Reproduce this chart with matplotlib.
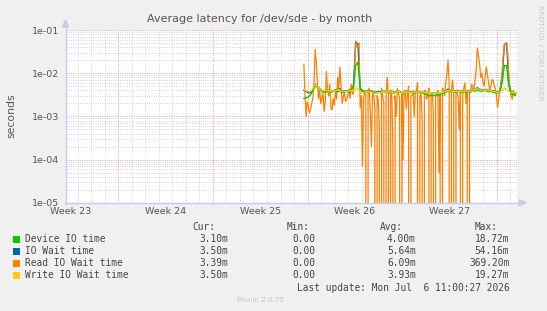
import numpy as np
import matplotlib
matplotlib.use('Agg')
import matplotlib.pyplot as plt
from matplotlib.patches import Rectangle, Polygon

W, H = 547, 311

# ---------------- data ----------------
start_day = 20.73          # days since start of week 23 grid
step_day = 1 / 6           # 4-hour samples (device / wait / write)
read_step_day = 1 / 12     # 2-hour samples (read)

read_io = [1.6e-2, 3.0e-3, 1.0e-3, 2.2e-3, 1.7e-3, 1.2e-3, 1.5e-3, 2.0e-3, 2.8e-3, 6.0e-3,
           3.6e-2, 1.8e-2, 6.0e-3, 2.5e-3, 4.5e-3, 2.0e-3, 2.4e-3, 3.5e-3, 1.3e-3, 2.2e-3,
           1.1e-2, 4.0e-3, 3.0e-3, 5.5e-3, 1.6e-3, 1.4e-3, 2.6e-3, 1.8e-3, 3.8e-3, 2.5e-3,
           8.0e-3, 4.5e-3, 1.4e-2, 5.0e-3, 2.0e-3, 2.8e-3, 3.6e-3, 2.2e-3, 2.4e-3, 3.0e-3,
           4.2e-3, 2.6e-3, 5.5e-3, 3.5e-3, 3.2e-3, 1.2e-2, 5.3e-2, 4.0e-2, 4.4e-2, 5.0e-2,
           1.6e-3, 3.0e-3, 7e-5, 2.5e-3, 4.0e-3, 3.0e-3, 0.0, 4.0e-3, 4.5e-3, 1.2e-3,
           2e-4, 3.8e-3, 3.5e-3, 1.5e-3, 0.0, 3.0e-3, 2.5e-3, 6e-4, 0.0, 4.5e-3,
           3.0e-3, 2.0e-3, 0.0, 3.5e-3, 8.0e-3, 3.0e-3, 0.0, 4.0e-3, 4.0e-3, 2e-4,
           0.0, 3.0e-3, 1.0e-3, 4.5e-3, 3.5e-3, 2.5e-3, 0.0, 3.5e-3, 1.0e-4, 4.0e-3,
           4.0e-3, 1.5e-3, 3.5e-3, 5.0e-3, 0.0, 3.0e-3, 3.0e-3, 4.0e-3, 1.0e-3, 3.5e-3,
           4.0e-3, 6.0e-3, 0.0, 3.0e-3, 3.5e-3, 8e-4, 0.0, 4.0e-3, 4.0e-3, 2.5e-3,
           3.0e-3, 4.5e-3, 0.0, 3.5e-3, 3.5e-3, 1.2e-3, 0.0, 3.0e-3, 3.0e-3, 4.0e-3,
           5e-5, 3.5e-3, 0.0, 4.5e-3, 4.0e-3, 3.0e-3, 6.0e-3, 1.0e-2, 2.0e-2, 6.0e-3,
           0.0, 4.0e-3, 7.0e-3, 3.0e-3, 0.0, 3.5e-3, 4.0e-3, 2.5e-3, 5e-4, 4.0e-3,
           0.0, 3.0e-3, 4.5e-3, 6.0e-3, 2.0e-3, 3.5e-3, 0.0, 4.0e-3, 3.5e-3, 5.5e-3,
           5.0e-3, 4.0e-3, 7.0e-3, 1.2e-2, 3.8e-2, 2.5e-2, 1.7e-2, 8.0e-3, 1.0e-2, 6.0e-3,
           5.0e-3, 8.0e-3, 1.4e-2, 9.0e-3, 6.0e-3, 4.0e-3, 5.0e-3, 7.0e-3, 7.0e-3, 5.0e-3,
           4.5e-3, 3.0e-3, 1.6e-3, 2.5e-3, 4.0e-3, 6.0e-3, 1.0e-2, 2.5e-2, 4.5e-2, 5.0e-2,
           5.0e-2, 3.0e-2, 8.0e-3, 4.0e-3, 3.0e-3, 2.5e-3, 4.0e-3, 3.0e-3, 3.3e-3]

device_io = [2.6e-3, 2.7e-3, 2.8e-3, 3.2e-3, 4.0e-3, 5.0e-3, 4.8e-3, 4.2e-3, 3.8e-3, 3.6e-3,
             3.7e-3, 3.9e-3, 3.6e-3, 3.8e-3, 4.0e-3, 3.7e-3, 3.9e-3, 3.5e-3, 3.7e-3, 3.8e-3,
             3.6e-3, 4.0e-3, 5.0e-3, 1.5e-2, 1.8e-2, 4.5e-3, 3.8e-3, 3.6e-3, 3.7e-3, 3.5e-3,
             3.8e-3, 3.6e-3, 3.4e-3, 3.7e-3, 3.5e-3, 3.8e-3, 3.6e-3, 3.9e-3, 3.5e-3, 3.7e-3,
             3.4e-3, 3.6e-3, 3.8e-3, 3.5e-3, 3.3e-3, 3.6e-3, 3.8e-3, 3.5e-3, 3.7e-3, 3.4e-3,
             3.6e-3, 3.5e-3, 3.7e-3, 3.4e-3, 3.3e-3, 3.1e-3, 3.0e-3, 3.1e-3, 3.0e-3, 3.2e-3,
             3.1e-3, 3.3e-3, 3.5e-3, 3.6e-3, 3.9e-3, 3.7e-3, 3.8e-3, 3.6e-3, 3.9e-3, 3.7e-3,
             3.5e-3, 3.8e-3, 3.6e-3, 3.7e-3, 3.9e-3, 4.0e-3, 3.8e-3, 4.1e-3, 3.9e-3, 3.8e-3,
             4.0e-3, 3.9e-3, 3.7e-3, 3.8e-3, 3.6e-3, 3.5e-3, 3.4e-3, 3.6e-3, 6.0e-3, 1.5e-2,
             1.5e-2, 5.0e-3, 3.3e-3, 3.2e-3, 3.1e-3]

io_wait = [4.0e-3, 3.8e-3, 3.5e-3, 3.6e-3, 4.2e-3, 5.6e-3, 5.0e-3, 4.4e-3, 4.0e-3, 3.9e-3,
           4.1e-3, 4.0e-3, 3.8e-3, 3.9e-3, 4.1e-3, 4.3e-3, 4.4e-3, 3.8e-3, 3.9e-3, 3.8e-3,
           4.0e-3, 4.4e-3, 5.0e-3, 5.4e-2, 4.5e-2, 4.4e-3, 3.9e-3, 3.8e-3, 3.9e-3, 3.8e-3,
           3.9e-3, 3.7e-3, 3.6e-3, 3.8e-3, 3.7e-3, 3.9e-3, 3.7e-3, 4.1e-3, 3.7e-3, 3.8e-3,
           3.6e-3, 3.7e-3, 3.9e-3, 3.6e-3, 3.5e-3, 3.8e-3, 3.9e-3, 3.6e-3, 3.8e-3, 3.6e-3,
           3.8e-3, 3.6e-3, 3.8e-3, 3.6e-3, 3.6e-3, 3.5e-3, 3.4e-3, 3.5e-3, 3.4e-3, 3.5e-3,
           3.4e-3, 3.5e-3, 3.7e-3, 3.9e-3, 4.3e-3, 3.9e-3, 4.0e-3, 3.8e-3, 4.0e-3, 3.9e-3,
           3.8e-3, 4.0e-3, 3.9e-3, 3.9e-3, 4.1e-3, 4.3e-3, 4.1e-3, 4.6e-3, 4.3e-3, 4.1e-3,
           4.2e-3, 4.2e-3, 4.0e-3, 4.0e-3, 3.9e-3, 3.8e-3, 3.6e-3, 3.8e-3, 8.0e-3, 4.5e-2,
           5.0e-2, 6.0e-3, 3.6e-3, 3.6e-3, 3.5e-3]

write_io = [4.2e-3, 4.0e-3, 3.7e-3, 3.8e-3, 4.4e-3, 5.5e-3, 5.0e-3, 4.3e-3, 4.0e-3, 3.9e-3,
            4.0e-3, 3.9e-3, 3.8e-3, 3.9e-3, 4.0e-3, 4.1e-3, 4.0e-3, 3.7e-3, 3.8e-3, 3.7e-3,
            3.9e-3, 4.0e-3, 3.8e-3, 4.6e-3, 4.2e-3, 3.6e-3, 3.5e-3, 3.6e-3, 3.8e-3, 3.6e-3,
            3.7e-3, 3.5e-3, 3.4e-3, 3.6e-3, 3.5e-3, 3.8e-3, 3.6e-3, 4.0e-3, 3.6e-3, 3.7e-3,
            3.5e-3, 3.6e-3, 3.8e-3, 3.5e-3, 3.4e-3, 3.7e-3, 3.8e-3, 3.5e-3, 3.7e-3, 3.5e-3,
            3.7e-3, 3.5e-3, 3.8e-3, 3.6e-3, 3.6e-3, 3.5e-3, 3.4e-3, 3.5e-3, 3.4e-3, 3.5e-3,
            3.4e-3, 3.5e-3, 3.7e-3, 3.8e-3, 4.0e-3, 3.8e-3, 3.9e-3, 3.7e-3, 3.9e-3, 3.8e-3,
            3.7e-3, 3.9e-3, 3.8e-3, 3.8e-3, 4.0e-3, 4.2e-3, 4.0e-3, 4.4e-3, 4.2e-3, 4.0e-3,
            4.1e-3, 4.1e-3, 3.9e-3, 3.9e-3, 3.8e-3, 3.7e-3, 3.5e-3, 3.7e-3, 4.0e-3, 4.5e-3,
            4.2e-3, 3.8e-3, 3.5e-3, 3.6e-3, 3.5e-3]

week_labels = ['Week 23', 'Week 24', 'Week 25', 'Week 26', 'Week 27']
week_label_days = [3.5, 10.5, 17.5, 24.5, 31.5]
week_start_days = [7, 14, 21, 28, 35]
x_range = (3.09, 36.5)

ytick_vals = [1e-5, 1e-4, 1e-3, 1e-2, 1e-1]
ytick_labels = ['1e-05', '1e-04', '1e-03', '1e-02', '1e-01']

series_names = ['Device IO time', 'IO Wait time', 'Read IO Wait time', 'Write IO Wait time']
series_colors = ['#00CC00', '#0066B3', '#FF8000', '#FFCC00']
stat_cur = ['3.10m', '3.50m', '3.39m', '3.50m']
stat_min = ['0.00', '0.00', '0.00', '0.00']
stat_avg = ['4.00m', '5.64m', '6.09m', '3.93m']
stat_max = ['18.72m', '54.16m', '369.20m', '19.27m']

# ---------------- figure ----------------
def fx(x):
    return x / W

def fy(y):
    return 1 - y / H

fig = plt.figure(figsize=(W / 100, H / 100), dpi=100, facecolor='#F0F0F0')
ax_l, ax_r, ax_t, ax_b = 65.5, 517.0, 30.0, 202.7
ax = fig.add_axes([fx(ax_l), fy(ax_b), fx(ax_r) - fx(ax_l), fy(ax_t) - fy(ax_b)])
ax.set_facecolor('white')
ax.set_yscale('log')
ax.set_ylim(1e-5, 1e-1)
ax.set_xlim(*x_range)

for s in ax.spines.values():
    s.set_visible(False)

minor_kw = dict(color='#D4D4D4', lw=0.7, ls=(0, (1, 1.3)), zorder=1)
major_kw = dict(color='#EBA0A0', lw=0.7, ls=(0, (1, 1.3)), zorder=1.5)

# vertical grid: days (minor), week starts (major)
for d in range(int(np.ceil(x_range[0])), int(x_range[1]) + 1):
    if d in week_start_days:
        ax.axvline(d, **major_kw)
    else:
        ax.axvline(d, **minor_kw)
# horizontal grid
for dec in ytick_vals:
    ax.axhline(dec, **major_kw)
    if dec < 1e-1:
        for m in range(2, 10):
            ax.axhline(dec * m, **minor_kw)

t = start_day + step_day * np.arange(len(device_io))
t_read = start_day + read_step_day * np.arange(len(read_io))
ax.plot(t, io_wait, color=series_colors[1], lw=1.0, zorder=2.8)
ax.plot(t_read, read_io, color=series_colors[2], lw=0.9, zorder=3)
ax.plot(t, device_io, color=series_colors[0], lw=1.0, zorder=4)
ax.plot(t, write_io, color=series_colors[3], lw=1.0, zorder=5)

ax.set_xticks(week_label_days)
ax.set_xticklabels(week_labels)
ax.set_yticks(ytick_vals)
ax.set_yticklabels(ytick_labels)
ax.yaxis.set_minor_locator(matplotlib.ticker.NullLocator())
ax.xaxis.set_minor_locator(matplotlib.ticker.NullLocator())
ax.tick_params(axis='both', length=0, labelsize=6.8, labelcolor='#555555')
ax.tick_params(axis='x', pad=3.0)
ax.tick_params(axis='y', pad=4.5)

# axis lines with arrows
acol = '#C4CAF0'
fig.add_artist(plt.Line2D([fx(ax_l), fx(ax_l)], [fy(ax_b + 1), fy(24)], color=acol, lw=1.0))
fig.add_artist(plt.Line2D([fx(ax_l - 1), fx(520)], [fy(ax_b), fy(ax_b)], color=acol, lw=1.0))
fig.add_artist(Polygon([[fx(ax_l - 3), fy(27)], [fx(ax_l + 3), fy(27)], [fx(ax_l), fy(20)]],
                       closed=True, color=acol, transform=fig.transFigure))
fig.add_artist(Polygon([[fx(519), fy(ax_b - 3)], [fx(519), fy(ax_b + 3)], [fx(526), fy(ax_b)]],
                       closed=True, color=acol, transform=fig.transFigure))

# titles
fig.text(fx(259.5), fy(19), 'Average latency for /dev/sde - by month', ha='center', va='center',
         fontsize=8.0, color='#555555')
fig.text(fx(11), fy(116), 'seconds', rotation=90, ha='center', va='center', fontsize=7.8,
         color='#555555')
fig.text(fx(540), fy(53), 'RRDTOOL / TOBI OETIKER', rotation=270, ha='center', va='center',
         fontsize=5.4, color='#C8C8C8')

# legend
mono = dict(family='DejaVu Sans Mono', fontsize=6.85, color='#444444')
row_y = [239.5, 251.5, 263.5, 275.5]
hdr_y = 227.5
fig.text(fx(215.7), fy(hdr_y), 'Cur:', ha='right', va='center', **mono)
fig.text(fx(309.3), fy(hdr_y), 'Min:', ha='right', va='center', **mono)
fig.text(fx(403.3), fy(hdr_y), 'Avg:', ha='right', va='center', **mono)
fig.text(fx(497.3), fy(hdr_y), 'Max:', ha='right', va='center', **mono)
for i, name in enumerate(series_names):
    y = row_y[i]
    fig.add_artist(Rectangle((fx(13), fy(y + 3.5)), fx(7), 7 / H, transform=fig.transFigure,
                             facecolor=series_colors[i], edgecolor='none'))
    fig.text(fx(25), fy(y), name, ha='left', va='center', **mono)
    fig.text(fx(227.7), fy(y), stat_cur[i], ha='right', va='center', **mono)
    fig.text(fx(315.0), fy(y), stat_min[i], ha='right', va='center', **mono)
    fig.text(fx(415.7), fy(y), stat_avg[i], ha='right', va='center', **mono)
    fig.text(fx(509.3), fy(y), stat_max[i], ha='right', va='center', **mono)

fig.text(fx(509.3), fy(287.7), 'Last update: Mon Jul  6 11:00:27 2026', ha='right', va='center', **mono)
fig.text(fx(260.7), fy(300.5), 'Munin 2.0.75', ha='center', va='center', fontsize=5.2, color='#C4C4C4')

fig.savefig('out.png', dpi=100, facecolor=fig.get_facecolor())
